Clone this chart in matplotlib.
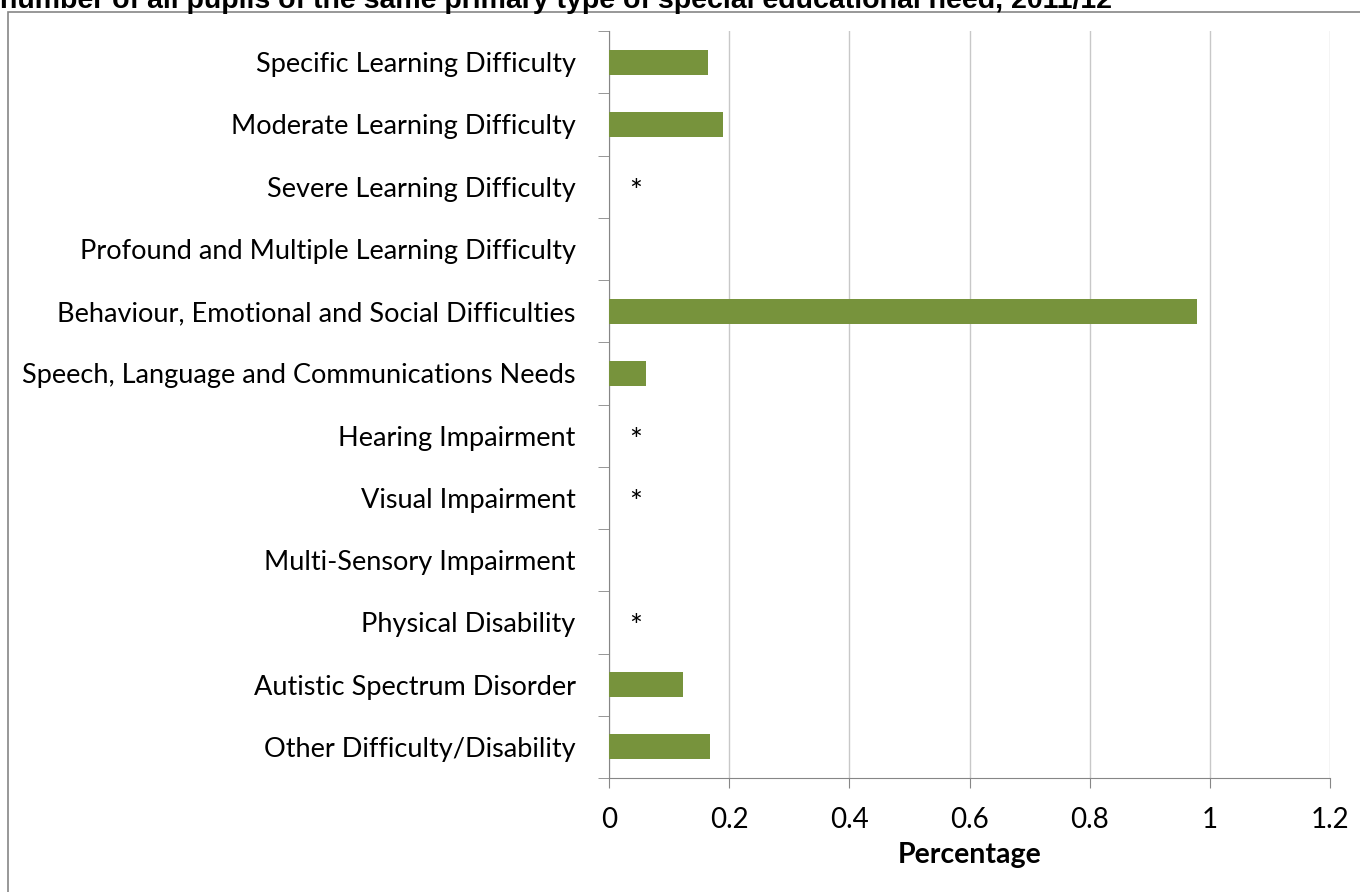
import matplotlib
matplotlib.use('Agg')
import matplotlib.pyplot as plt
import numpy as np
from matplotlib.patches import Rectangle

categories = ['Specific Learning Difficulty', 'Moderate Learning Difficulty',
              'Severe Learning Difficulty', 'Profound and Multiple Learning Difficulty',
              'Behaviour, Emotional and Social Difficulties',
              'Speech, Language and Communications Needs', 'Hearing Impairment',
              'Visual Impairment', 'Multi-Sensory Impairment', 'Physical Disability',
              'Autistic Spectrum Disorder', 'Other Difficulty/Disability']
values = [0.165, 0.19, 0, 0, 0.979, 0.062, 0, 0, 0, 0, 0.123, 0.168]
# '*' = suppressed value
labels = ['', '', '*', '', '', '', '*', '*', '', '*', '', '']
xticks = [0, 0.2, 0.4, 0.6, 0.8, 1, 1.2]
xtick_labels = ['0', '0.2', '0.4', '0.6', '0.8', '1', '1.2']

plt.rcParams['font.family'] = ['Lato', 'DejaVu Sans']

fig = plt.figure(figsize=(13.6, 8.92), dpi=100)
ax = fig.add_axes([0.4478, 0.1278, 0.5302, 0.8374])

pos = np.arange(len(categories))
ax.barh(pos, values, height=0.4, color='#77933c', zorder=3)
for p, lab in zip(pos, labels):
    if lab:
        ax.text(0.045, p + 0.08, lab, ha='center', va='center', fontsize=22, color='black')

ax.set_ylim(len(categories) - 0.5, -0.5)
ax.set_xlim(0, 1.2)
ax.set_xticks(xticks)
ax.set_xticklabels(xtick_labels, fontsize=20)
ax.set_yticks(pos)
ax.set_yticklabels(categories, fontsize=19.5)
ax.set_yticks(np.arange(-0.5, len(categories)), minor=True)
ax.tick_params(axis='y', which='major', length=0, pad=24)
ax.tick_params(axis='y', which='minor', length=8, color='#868686', direction='out')
ax.tick_params(axis='x', which='major', length=7, color='#868686', pad=14)
ax.grid(axis='x', color='#c8c8c8', linewidth=1, zorder=0)
for s in ['top', 'right']:
    ax.spines[s].set_visible(False)
for s in ['left', 'bottom']:
    ax.spines[s].set_color('#868686')
ax.set_xlabel('Percentage', fontsize=20.5, fontweight='bold', labelpad=6)

# outer chart frame
fig.patches.append(Rectangle((0.006, -0.01), 1.0, 0.9965, transform=fig.transFigure,
                             fill=False, edgecolor='#868686', linewidth=1.2))
# title, partly cut off at the top as in the source image
fig.text(0.0, 0.9915, 'number of all pupils of the same primary type of special educational need, 2011/12',
         family='Liberation Sans', fontweight='bold', fontsize=20.5, va='baseline', ha='left')

fig.savefig('out.png', dpi=100)
